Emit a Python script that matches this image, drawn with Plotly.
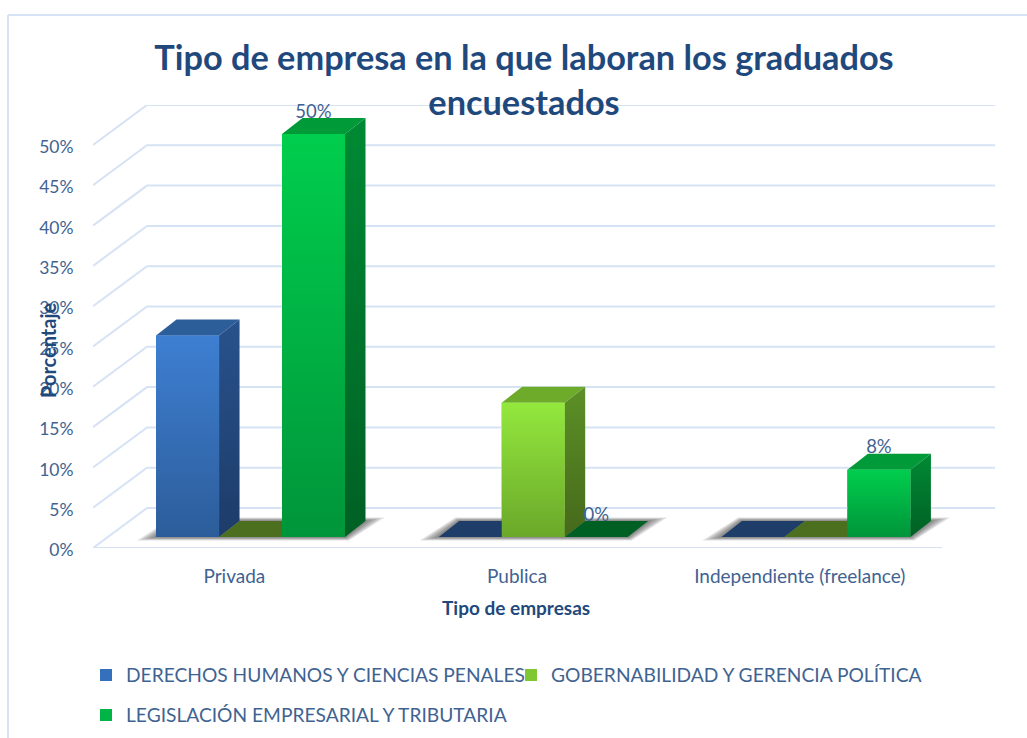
import plotly.graph_objects as go

categories = ["Privada", "Publica", "Independiente (freelance)"]
series_names = ["DERECHOS HUMANOS Y CIENCIAS PENALES", "GOBERNABILIDAD Y GERENCIA POLÍTICA", "LEGISLACIÓN EMPRESARIAL Y TRIBUTARIA"]
derechos = [25, 0, 0]
gobernabilidad = [0, 16.67, 0]
legislacion = [50, 0, 8.33]
y_ticks = [0, 5, 10, 15, 20, 25, 30, 35, 40, 45, 50]

values = [derechos, gobernabilidad, legislacion]
FRONT_TOP = ["#3E7FD2", "#93E83D", "#00CE4D"]
FRONT_BOT = ["#2C5D9A", "#6BA82A", "#00953A"]
SIDE_TOP = ["#28528C", "#5C9027", "#008A34"]
SIDE_BOT = ["#1D3C69", "#46691B", "#006024"]
TOP_FACE = ["#2C5E99", "#6EAB2B", "#009A38"]
STUB = ["#1E3D68", "#4B6F1E", "#006024"]
LEGEND_C = ["#3570BC", "#80C833", "#00B545"]

INK = "#3F6391"
TITLE_INK = "#1F497D"
GRID = "#D6E3F5"
FONT = "Lato"

# Geometry in axis units
UX, UY = 282.7, 8.06
PX_L, PX_R, PX_B, PX_T = 93, 995, 548, 105
W, H = 1027, 738
FLOOR = 11 / UY
DX, DY = 20.5 / UX, 16 / UY
BAR_W = 63 / UX
OFFS = [-0.277, -0.0543, 0.1686]
WALL_X, WALL_Y = 54 / UX, 40 / UY
X0 = -0.5
X1 = X0 + 849 / UX
XMAX = X0 + (PX_R - PX_L) / UX
YMAX = (PX_B - PX_T) / UY

fig = go.Figure()
xi = list(range(len(categories)))

# legend-carrying data bars
for s, name in enumerate(series_names):
    fig.add_trace(go.Bar(
        x=[i + OFFS[s] + BAR_W / 2 for i in xi], y=values[s], base=FLOOR, width=BAR_W,
        name=name, marker=dict(color=LEGEND_C[s], line=dict(width=0)),
        legend="legend" if s == 0 else f"legend{s + 1}", hoverinfo="skip"))

# wall + floor gridlines
gx, gy = [], []
for t in y_ticks:
    gx += [X0, X0 + WALL_X, XMAX, None]
    gy += [t, t + WALL_Y, t + WALL_Y, None]
gx += [X0, X1, None]
gy += [0, 0, None]
fig.add_trace(go.Scatter(x=gx, y=gy, mode="lines", line=dict(color=GRID, width=2),
                         showlegend=False, hoverinfo="skip"))


def poly(xs, ys, **kw):
    fig.add_trace(go.Scatter(x=xs + xs[:1], y=ys + ys[:1], mode="lines", fill="toself",
                             line=dict(width=0), showlegend=False, hoverinfo="skip", **kw))


# floor shadows
for i in xi:
    L, R = i + OFFS[0], i + OFFS[2] + BAR_W
    for k in [1.0, 0.8, 0.6, 0.4, 0.2]:
        ex, ey = k * 19 / UX, k * 3.5 / UY
        poly([L - ex, L + DX - ex * 0.2, R + DX + ex, R + ex * 0.2],
             [FLOOR - ey, FLOOR + DY + ey, FLOOR + DY + ey, FLOOR - ey],
             fillcolor="rgba(40,40,40,0.14)")

# 3-D faces
for i in xi:
    for s in range(3):
        v = values[s][i]
        l = i + OFFS[s]
        r = l + BAR_W
        top = FLOOR + v
        if v == 0:
            poly([l, l + DX, r + DX, r], [FLOOR, FLOOR + DY, FLOOR + DY, FLOOR], fillcolor=STUB[s])
            continue
        poly([l, l + DX, r + DX, r], [top, top + DY, top + DY, top], fillcolor=TOP_FACE[s])
        poly([r, r + DX, r + DX, r], [FLOOR, FLOOR + DY, top + DY, top],
             fillgradient=dict(type="vertical", colorscale=[[0, SIDE_BOT[s]], [1, SIDE_TOP[s]]]))
        poly([l, r, r, l], [FLOOR, FLOOR, top, top],
             fillgradient=dict(type="vertical", colorscale=[[0, FRONT_BOT[s]], [1, FRONT_TOP[s]]]))

# data labels (third series only)
fig.add_trace(go.Scatter(
    x=[i + OFFS[2] + BAR_W / 2 for i in xi],
    y=[FLOOR + v + 21 / UY for v in legislacion],
    mode="text", text=[f"{v:.0f}%" for v in legislacion],
    textfont=dict(family=FONT, size=18.5, color=INK), showlegend=False, hoverinfo="skip",
    cliponaxis=False))

legend_base = dict(font=dict(family=FONT, size=19.2, color=INK), bgcolor="rgba(0,0,0,0)",
                   xanchor="left", yanchor="middle", borderwidth=0, itemclick=False, itemdoubleclick=False)

fig.update_layout(
    width=W, height=H, margin=dict(l=0, r=0, t=0, b=0, autoexpand=False),
    paper_bgcolor="white", plot_bgcolor="rgba(0,0,0,0)", barmode="overlay",
    font=dict(family=FONT, color=INK),
    title=dict(text="Tipo de empresa en la que laboran los graduados<br>encuestados",
               x=524 / W, xanchor="center", y=1 - 70 / H, yanchor="middle",
               font=dict(family=FONT, size=34.3, color=TITLE_INK, weight="bold")),
    xaxis=dict(domain=[PX_L / W, PX_R / W], range=[X0, XMAX], tickmode="array", tickvals=xi,
               ticktext=categories, showgrid=False, zeroline=False, showline=False,
               ticks="outside", ticklen=11, tickcolor="rgba(0,0,0,0)",
               tickfont=dict(family=FONT, size=19, color=INK), automargin=False),
    yaxis=dict(domain=[1 - PX_B / H, 1 - PX_T / H], range=[0, YMAX], tickmode="array", tickvals=y_ticks,
               ticktext=[f"{t}%" for t in y_ticks], showgrid=False, zeroline=False, showline=False,
               ticks="outside", ticklen=15, tickcolor="rgba(0,0,0,0)", ticklabelshift=2,
               tickfont=dict(family=FONT, size=17.5, color=INK), automargin=False),
    legend=dict(x=86 / W, y=1 - 675 / H, **legend_base),
    legend2=dict(x=511 / W, y=1 - 675 / H, **legend_base),
    legend3=dict(x=86 / W, y=1 - 715 / H, **legend_base),
    shapes=[
        dict(type="line", xref="paper", yref="paper", x0=8 / W, x1=8 / W, y0=0, y1=1 - 15 / H,
             line=dict(color=GRID, width=2)),
        dict(type="line", xref="paper", yref="paper", x0=8 / W, x1=1, y0=1 - 15 / H, y1=1 - 15 / H,
             line=dict(color=GRID, width=2)),
    ],
    annotations=[
        dict(text="<b>Tipo de empresas</b>", xref="paper", yref="paper", x=516 / W, y=1 - 607 / H,
             xanchor="center", yanchor="middle",
             showarrow=False, font=dict(family=FONT, size=19, color=TITLE_INK)),
        dict(text="<b>Porcentaje</b>", xref="paper", yref="paper", x=48 / W, y=1 - 350 / H, textangle=-90,
             xanchor="center", yanchor="middle",
             showarrow=False, font=dict(family=FONT, size=20, color=TITLE_INK)),
    ],
)

fig.write_html("out.html", config={"displayModeBar": False}, post_script="document.body.style.margin='0';")
